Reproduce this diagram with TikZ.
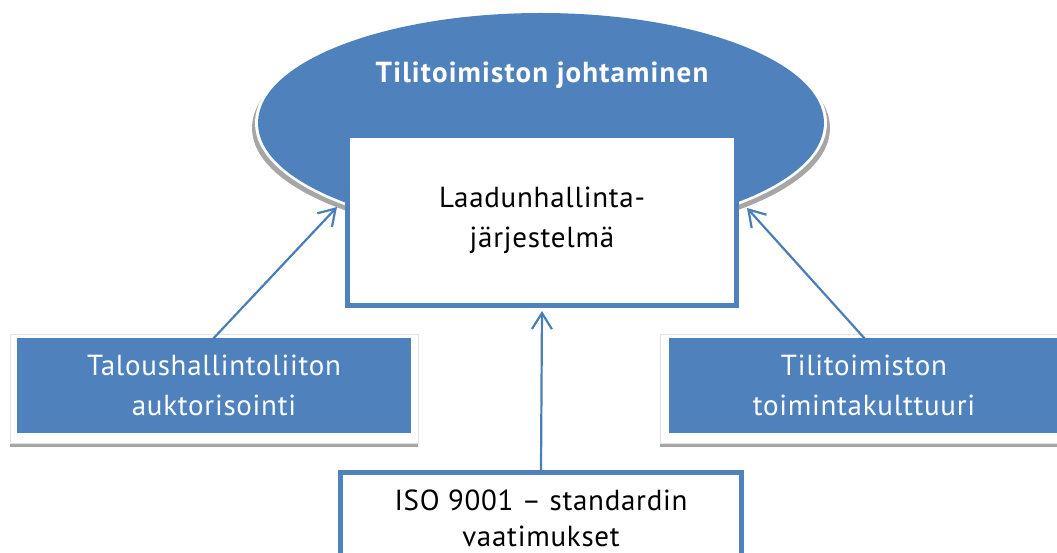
\documentclass[tikz,border=0pt]{standalone}
\usepackage{fontspec}
\setmainfont{PT Sans}[LetterSpace=2.5, BoldFeatures={LetterSpace=4}]
\usetikzlibrary{arrows.meta,shapes.geometric,calc}
\definecolor{officeblue}{HTML}{4F81BD}
\definecolor{arrowblue}{HTML}{4A7EBB}
\definecolor{shadowgray}{HTML}{A6A6A6}
\definecolor{framegray}{HTML}{E2E2E2}

\begin{document}
\begin{tikzpicture}[x=1pt,y=-1pt,
  txt/.style={font=\fontsize{29}{40}\selectfont, align=center},
  bluebox/.style={txt, fill=officeblue, text=white, minimum height=95, inner sep=0},
  whitebox/.style={txt, fill=white, draw=officeblue, line width=5, inner sep=0},
  frame/.style={fill=white, draw=framegray, line width=1},
  dropshadow/.style={fill=shadowgray},
  link/.style={draw=arrowblue, line width=2.2,
    -{Straight Barb[length=16pt,width=20pt,line width=2.2pt]}},
]
\useasboundingbox (0,0) rectangle (1057,553);
\begin{scope}
\clip (0,0) rectangle (1057,553);

% management ellipse with its white rim and soft shadow
\fill[shadowgray] (541,128) ellipse [x radius=289, y radius=112];
\fill[white] (541,123) ellipse [x radius=286, y radius=113];
\node[ellipse, fill=officeblue, minimum width=566, minimum height=220, inner sep=0] (lead) at (541,123) {};
\node[txt, text=white, font=\fontsize{29}{40}\selectfont\bfseries] (leadtitle) at (542,75) {Tilitoimiston johtaminen};

% quality management system
\node[whitebox, minimum width=389, minimum height=170] (qms) at (542,220.5)
  {Laadunhallinta-\\järjestelmä};

% standard requirements (runs off the bottom edge)
\node[whitebox, minimum width=401, minimum height=91,
      font=\fontsize{29}{36}\selectfont] (iso) at (541,518)
  {ISO 9001 – standardin\\vaatimukset};

% framed side boxes
\fill[dropshadow] (10,440) rectangle (418,447);
\draw[frame] (10,334) rectangle (418,443);
\node[bluebox, minimum width=394] (auth) at (214,385.5)
  {Taloushallintoliiton\\auktorisointi};

\fill[dropshadow] (660,440) rectangle (1068,447);
\draw[frame] (660,334) rectangle (1068,443);
\node[bluebox, minimum width=390] (culture) at (864,385.5)
  {Tilitoimiston\\toimintakulttuuri};

% influences on the quality system
\coordinate (tipL) at (337,207);
\coordinate (tipR) at (747,208);
\draw[link, shorten <=-4pt] (auth.north) -- (tipL);
\draw[link, shorten <=-4pt] (culture.north) -- (tipR);
\draw[link, shorten >=3pt] (iso.north) -- (qms.south);
\end{scope}
\end{tikzpicture}
\end{document}
